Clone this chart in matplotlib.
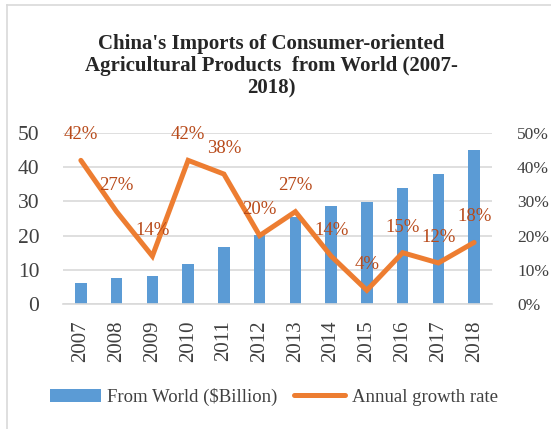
import matplotlib
matplotlib.use("Agg")
import matplotlib.pyplot as plt
from matplotlib.lines import Line2D
from matplotlib.ticker import PercentFormatter

years = ["2007", "2008", "2009", "2010", "2011", "2012", "2013", "2014", "2015", "2016", "2017", "2018"]
imports_bn = [6.1, 7.7, 8.3, 11.8, 16.6, 20.1, 25.4, 28.7, 29.9, 34.0, 38.1, 45.1]
growth_pct = [42, 27, 14, 42, 38, 20, 27, 14, 4, 15, 12, 18]

plt.rcParams['font.family'] = ['Liberation Serif', 'DejaVu Serif']

W, H = 551, 429
fig = plt.figure(figsize=(W / 100, H / 100), dpi=100)
fig.patch.set_facecolor("white")

left, right, top, bottom = 63, 492, 133, 304
ax = fig.add_axes([left / W, 1 - bottom / H, (right - left) / W, (bottom - top) / H])
x = list(range(len(years)))
bars = ax.bar(x, imports_bn, width=0.32, color="#5B9BD5", label="From World ($Billion)", zorder=2)
ax.set_ylim(0, 50)
ax.set_xlim(-0.5, len(years) - 0.5)
ax.set_yticks(range(0, 51, 10))
ax.yaxis.grid(True, color="#D9D9D9", linewidth=1.2, zorder=0)
ax.set_axisbelow(True)
for s in ["top", "right", "left"]:
    ax.spines[s].set_visible(False)
ax.spines["bottom"].set_color("#D9D9D9")
ax.spines["bottom"].set_linewidth(1.2)
ax.tick_params(axis="y", length=0, pad=17, labelsize=15.5, labelcolor="#404040")
ax.tick_params(axis="x", length=0, pad=12, labelsize=15, labelcolor="#404040")
ax.set_xticks(x)
ax.set_xticklabels(years, rotation=90)

ax2 = ax.twinx()
line, = ax2.plot(x, growth_pct, color="#ED7D31", linewidth=3.6, solid_capstyle="round",
                 solid_joinstyle="miter", label="Annual growth rate", zorder=3)
ax2.set_ylim(0, 50)
ax2.set_yticks(range(0, 51, 10))
ax2.yaxis.set_major_formatter(PercentFormatter(decimals=0))
for s in ["top", "right", "left", "bottom"]:
    ax2.spines[s].set_visible(False)
ax2.tick_params(axis="y", length=0, pad=18, labelsize=12.5, labelcolor="#404040")
for xi, g in zip(x, growth_pct):
    ax2.annotate(f"{g}%", (xi, g), xytext=(0, 18.5), textcoords="offset points",
                 ha="center", va="center", fontsize=13.5, color="#B84A1A")

fig.text(0.492, 1 - 34 / H, "China's Imports of Consumer-oriented\nAgricultural Products  from World (2007-\n2018)",
         ha="center", va="top", fontsize=15, fontweight="bold", color="#262626",
         linespacing=1.15, transform=fig.transFigure)

leg = fig.legend([bars, line], ["From World ($Billion)", "Annual growth rate"], loc="center",
                 bbox_to_anchor=(0.497, 1 - 397 / H), ncol=2, frameon=False, fontsize=13.5,
                 handlelength=2.7, handletextpad=0.35, columnspacing=0.9)
for t in leg.get_texts():
    t.set_color("#404040")

fig.add_artist(Line2D([7 / W, 7 / W], [0, 1 - 5 / H], transform=fig.transFigure, color="#D9D9D9", linewidth=1.2))
fig.add_artist(Line2D([7 / W, 1], [1 - 5 / H, 1 - 5 / H], transform=fig.transFigure, color="#D9D9D9", linewidth=1.2))

fig.savefig("out.png", dpi=100)
